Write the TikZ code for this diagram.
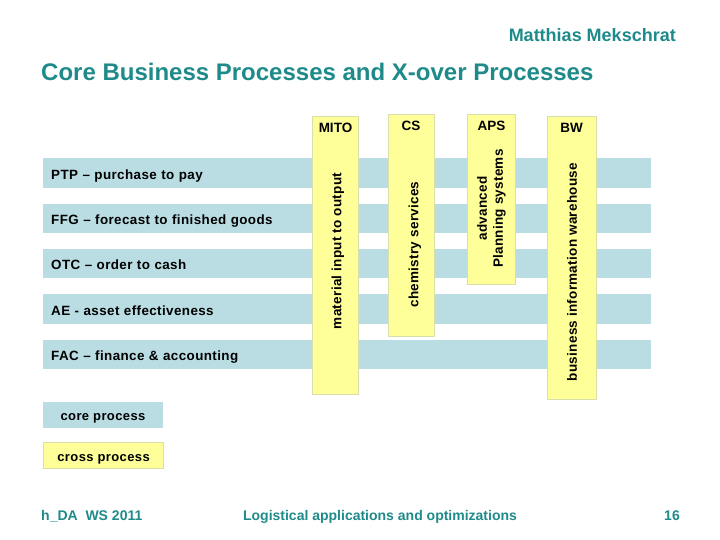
\documentclass[tikz,border=0pt]{standalone}
\usepackage{fontspec}
\setmainfont{Liberation Sans}
\usetikzlibrary{positioning}
\definecolor{coreblue}{HTML}{B9DDE2}
\definecolor{crossyellow}{HTML}{FFFF99}
\definecolor{crossedge}{HTML}{D8DFA8}
\definecolor{titleteal}{HTML}{1F8A8A}
\tikzset{
  corebar/.style={fill=coreblue, text=black, anchor=north west, inner xsep=8pt, inner ysep=0pt,
    text width=592pt, text height=15pt, text depth=3pt, minimum height=#1,
    font=\fontsize{13.4}{15}\bfseries\addfontfeatures{LetterSpace=3}},
  crossbar/.style={fill=crossyellow, draw=crossedge, line width=0.8pt, minimum height=#1, anchor=north west},
  headtext/.style={font=\fontsize{13.5}{15}\bfseries},
  sidetext/.style={rotate=90, align=center, font=\fontsize{13.5}{16}\bfseries\addfontfeatures{LetterSpace=2}},
  legendbox/.style={minimum width=119.6pt, minimum height=25.5pt, anchor=north west, inner ysep=0pt,
    text height=15pt, text depth=3pt, font=\fontsize{13}{15}\bfseries\addfontfeatures{LetterSpace=3}},
  teallabel/.style={text=titleteal, inner sep=0pt, font=\fontsize{14}{16}\bfseries},
}
\begin{document}
\begin{tikzpicture}[x=1pt,y=-1pt]
  \useasboundingbox (0,0) rectangle (720,540);

  % ---------- Titles ----------
  \node[teallabel, font=\fontsize{18}{20}\bfseries, anchor=base east] (author) at (676,42) {Matthias Mekschrat};
  \node[teallabel, font=\fontsize{24}{26}\bfseries, anchor=base west] (title) at (41,81) {Core Business Processes and X-over Processes};

  % ---------- Core processes ----------
  \node[corebar=30pt] (PTP) at (43,158) {PTP -- purchase to pay};
  \node[corebar=29pt] (FFG) at (43,204) {FFG -- forecast to finished goods};
  \node[corebar=29pt] (OTC) at (43,249) {OTC -- order to cash};
  \node[corebar=30pt] (AE) at (43,294) {AE - asset effectiveness};
  \node[corebar=29pt] (FAC) at (43,340) {FAC -- finance \& accounting};

  % ---------- Cross processes ----------
  \node[crossbar=278pt, minimum width=45.7pt] (MITO) at (312.3,116) {};
  \node[crossbar=222pt, minimum width=45.2pt] (CS) at (388.3,114) {};
  \node[crossbar=170pt, minimum width=48pt] (APS) at (467.3,114) {};
  \node[crossbar=283pt, minimum width=48.2pt] (BW) at (547.3,116) {};

  % Labels
  \node[headtext] (MITOhead) at (335.5,128) {MITO};
  \node[headtext] (CShead) at (411,126) {CS};
  \node[headtext] (APShead) at (491.5,126) {APS};
  \node[headtext] (BWhead) at (571.5,128) {BW};
  \node[sidetext] (MITOtext) at (337.8,251) {material input to output};
  \node[sidetext] (CStext) at (415,244.5) {chemistry services};
  \node[sidetext] (APStext) at (491.5,208.5) {advanced\\Planning systems};
  \node[sidetext] (BWtext) at (572,272) {business information warehouse};

  % ---------- Legend ----------
  \node[legendbox, fill=coreblue] (core) at (43,402) {core process};
  \node[legendbox, fill=crossyellow, draw=crossedge, line width=0.8pt] (cross) at (43.4,442.4) {cross process};

  % ---------- Footer ----------
  \node[teallabel, anchor=base west] (term) at (41,520) {h\_DA\ \ WS 2011};
  \node[teallabel, anchor=base] (course) at (380,520) {Logistical applications and optimizations};
  \node[teallabel, anchor=base east] (page) at (680,520) {16};
\end{tikzpicture}
\end{document}
